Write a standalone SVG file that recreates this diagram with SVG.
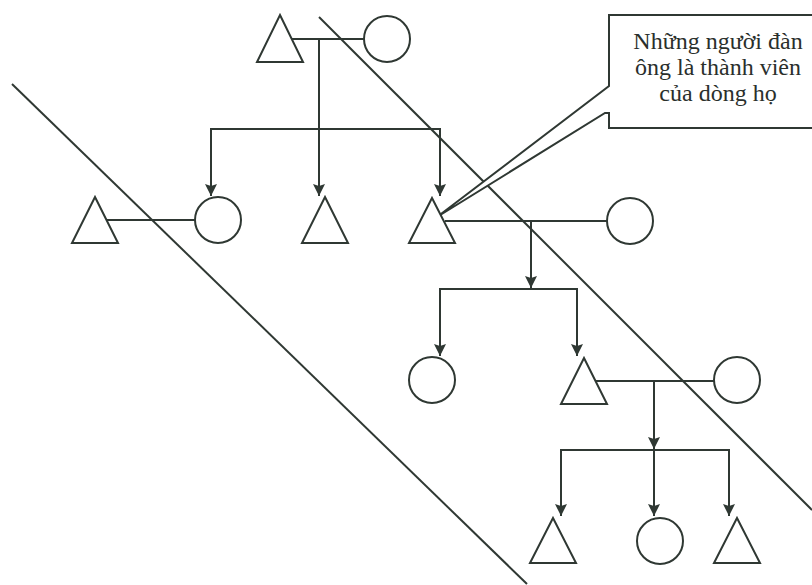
<svg xmlns="http://www.w3.org/2000/svg" width="812" height="585" viewBox="0 0 812 585">
<style>
.s{fill:none;stroke:#2f3833;stroke-width:2}
.n{fill:#fff;stroke:#2f3833;stroke-width:2}
.t{font-family:"Liberation Serif","Times New Roman",serif;font-size:24px;fill:#2a2f2c;text-anchor:middle}
</style>
<defs>
<marker id="ah" markerUnits="userSpaceOnUse" markerWidth="14" markerHeight="14" viewBox="0 0 14 14" refX="13" refY="7" orient="auto-start-reverse">
<path d="M1,1 L3,7 L1,13 L13,7 Z" fill="#2f3833"/>
</marker>
</defs>
<rect width="812" height="585" fill="#fff"/>
<g id="dividers" class="s">
<line x1="319" y1="17" x2="812" y2="510"/>
<line x1="12" y1="84" x2="527" y2="584"/>
</g>
<g id="connectors" class="s">
<line x1="290" y1="39" x2="364" y2="39"/>
<line x1="319" y1="39" x2="319" y2="196" marker-end="url(#ah)"/>
<polyline points="211,196 211,129 440,129 440,196" marker-start="url(#ah)" marker-end="url(#ah)"/>
<line x1="103" y1="220" x2="195" y2="220"/>
<line x1="445" y1="221" x2="607" y2="221"/>
<line x1="531" y1="221" x2="531" y2="288" marker-end="url(#ah)"/>
<polyline points="440,356 440,289 577,289 577,356" marker-start="url(#ah)" marker-end="url(#ah)"/>
<line x1="593" y1="381" x2="714" y2="381"/>
<line x1="654" y1="381" x2="654" y2="449" marker-end="url(#ah)"/>
<polyline points="561,516 561,450 729,450 729,516" marker-start="url(#ah)" marker-end="url(#ah)"/>
<line x1="654" y1="450" x2="654" y2="516" marker-end="url(#ah)"/>
</g>
<g id="callout">
<path class="n" d="M812,15 H609 V86 L437,217 L605,113 H609 V128 H812"/>
<text class="t" x="718" y="49">Những người đàn</text>
<text class="t" x="718" y="75">ông là thành viên</text>
<text class="t" x="718" y="101">của dòng họ</text>
</g>
<g id="n-t1"><polygon class="n" points="280,15 303,62 257,62"/></g>
<g id="n-c1"><circle class="n" cx="387" cy="39" r="23"/></g>
<g id="n-t2"><polygon class="n" points="95,197 118,243 72,243"/></g>
<g id="n-c2"><circle class="n" cx="218" cy="220" r="23"/></g>
<g id="n-t3"><polygon class="n" points="325,197 348,243 302,243"/></g>
<g id="n-t4"><polygon class="n" points="432,198 455,243 409,243"/></g>
<g id="n-c3"><circle class="n" cx="630" cy="221" r="23"/></g>
<g id="n-c4"><circle class="n" cx="432" cy="380" r="23"/></g>
<g id="n-t5"><polygon class="n" points="584,358 607,404 561,404"/></g>
<g id="n-c5"><circle class="n" cx="737" cy="380" r="23"/></g>
<g id="n-t6"><polygon class="n" points="553,518 576,563 530,563"/></g>
<g id="n-c6"><circle class="n" cx="660" cy="541" r="23"/></g>
<g id="n-t7"><polygon class="n" points="737,518 760,563 714,563"/></g>
</svg>
